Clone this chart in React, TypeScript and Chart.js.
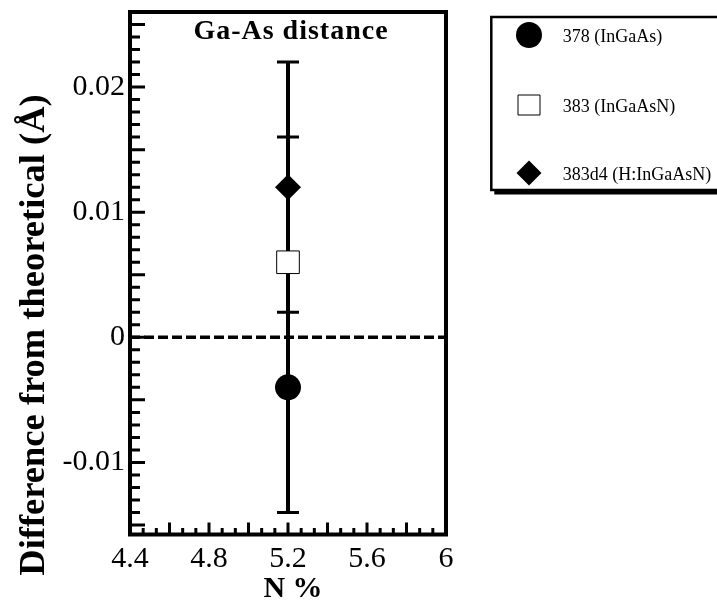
import React, { useEffect, useRef } from 'react';
import { Chart, registerables } from 'chart.js';

Chart.register(...registerables);

// ---- data ----
const seriesLabels = ['378 (InGaAs)', '383 (InGaAsN)', '383d4 (H:InGaAsN)'];
const nPercent = [5.2, 5.2, 5.2];
const difference = [-0.004, 0.006, 0.012];
const errors = [0.01, 0.01, 0.01];
const xTickLabels = [4.4, 4.8, 5.2, 5.6, 6];
const yTickLabels = [-0.01, 0, 0.01, 0.02];
const xRange = [4.4, 6];
const yRange = [-0.016, 0.026];
const zeroLine = [0, 0];

const chartTitle = 'Ga-As distance';
const xTitle = 'N %';
const yTitle = 'Difference from theoretical (Å)';

// ---- style ----
const FONT = '"Liberation Serif", "Times New Roman", Times, serif';
const pointStyles = ['circle', 'rect', 'rectRot'];
const pointRadii = [13, 16, 13];
const pointFills = ['#000', '#fff', '#000'];
const pointBorders = [0, 1, 0];

const W = 717;
const H = 601;
const PLOT_TOP = 12;
const PLOT_BOTTOM = 537.5;
const PLOT_LEFT = 130;
const PLOT_RIGHT = 446;

const noPadding = () => ({ left: 0, top: 0, right: 0, bottom: 0 });

const errorBarPlugin = {
  id: 'errorBars',
  beforeDatasetsDraw(chart: any) {
    const { ctx } = chart;
    const xs = chart.scales.x;
    const ys = chart.scales.y;
    chart.data.datasets.forEach((ds: any) => {
      if (!ds.errorBars) return;
      ds.data.forEach((p: any, j: number) => {
        const e = ds.errorBars[j];
        const px = xs.getPixelForValue(p.x);
        const top = ys.getPixelForValue(p.y + e);
        const bot = ys.getPixelForValue(p.y - e);
        ctx.save();
        ctx.strokeStyle = '#000';
        ctx.lineWidth = 4;
        ctx.beginPath();
        ctx.moveTo(px, top);
        ctx.lineTo(px, bot);
        ctx.stroke();
        ctx.lineWidth = 3;
        ctx.beginPath();
        ctx.moveTo(px - 11, top);
        ctx.lineTo(px + 11, top);
        ctx.moveTo(px - 11, bot);
        ctx.lineTo(px + 11, bot);
        ctx.stroke();
        ctx.restore();
      });
    });
  },
};

const framePlugin = {
  id: 'frame',
  afterDatasetsDraw(chart: any) {
    const { ctx, chartArea } = chart;
    const { left, right, top, bottom } = chartArea;
    const xs = chart.scales.x;
    const ys = chart.scales.y;
    const fb = bottom - 3;
    ctx.save();
    ctx.strokeStyle = '#000';
    ctx.lineWidth = 4;
    ctx.strokeRect(left, top, right - left, fb - top);
    ctx.lineWidth = 3;
    ctx.beginPath();
    for (let i = Math.round(yRange[0] * 1000) + 1; i < Math.round(yRange[1] * 1000); i++) {
      const py = ys.getPixelForValue(i / 1000);
      if (py >= fb - 2 || py <= top + 2) continue;
      const len = i % 5 === 0 ? 15 : 10;
      ctx.moveTo(left, py);
      ctx.lineTo(left + len, py);
    }
    const div = 24;
    for (let i = 1; i < div; i++) {
      const v = xRange[0] + (i * (xRange[1] - xRange[0])) / div;
      const px = xs.getPixelForValue(v);
      const len = i % 3 === 0 ? 12 : 6.5;
      ctx.moveTo(px, fb);
      ctx.lineTo(px, fb - len);
    }
    ctx.stroke();
    ctx.restore();
  },
};

const textPlugin = {
  id: 'texts',
  afterDraw(chart: any) {
    const { ctx, chartArea } = chart;
    ctx.save();
    ctx.fillStyle = '#000';
    ctx.font = `bold 28px ${FONT}`;
    ctx.textAlign = 'center';
    ctx.textBaseline = 'alphabetic';
    try { (ctx as any).letterSpacing = '1px'; } catch (e) {}
    ctx.fillText(chartTitle, (chartArea.left + chartArea.right) / 2 + 3, 38.5);
    try { (ctx as any).letterSpacing = '0px'; } catch (e) {}
    ctx.font = `bold 30px ${FONT}`;
    ctx.fillText(xTitle, 293, 597);
    ctx.save();
    ctx.translate(44, 335);
    ctx.rotate(-Math.PI / 2);
    ctx.font = `bold 36.5px ${FONT}`;
    ctx.fillText(yTitle, 0, 0);
    ctx.restore();
    ctx.restore();
  },
};

const legendPlugin = {
  id: 'boxLegend',
  afterDraw(chart: any) {
    const { ctx } = chart;
    const bx = 491.3, by = 17, bw = 240, bh = 173;
    ctx.save();
    ctx.fillStyle = '#fff';
    ctx.fillRect(bx, by, bw, bh);
    ctx.fillStyle = '#000';
    ctx.fillRect(bx + 3, by + bh, bw, 4.5);
    ctx.strokeStyle = '#000';
    ctx.lineWidth = 2.5;
    ctx.strokeRect(bx, by, bw, bh);
    const rows = [35, 105, 173];
    const mx = 529;
    chart.data.datasets.forEach((ds: any, i: number) => {
      if (!ds.inLegend) return;
      const cy = rows[i];
      ctx.fillStyle = ds.backgroundColor;
      ctx.strokeStyle = '#000';
      ctx.lineWidth = 1;
      ctx.beginPath();
      if (ds.pointStyle === 'circle') {
        ctx.arc(mx, cy, 13, 0, Math.PI * 2);
        ctx.fill();
      } else if (ds.pointStyle === 'rect') {
        ctx.rect(mx - 11, cy - 10, 22, 20);
        ctx.fill();
        ctx.stroke();
      } else {
        ctx.moveTo(mx, cy - 12.5);
        ctx.lineTo(mx + 12.5, cy);
        ctx.lineTo(mx, cy + 12.5);
        ctx.lineTo(mx - 12.5, cy);
        ctx.closePath();
        ctx.fill();
      }
      ctx.fillStyle = '#000';
      ctx.font = `18px ${FONT}`;
      ctx.textAlign = 'left';
      ctx.textBaseline = 'alphabetic';
      ctx.fillText(ds.label, 562.7, cy + 6.5);
    });
    ctx.restore();
  },
};

export default function App() {
  const ref = useRef<HTMLCanvasElement | null>(null);
  useEffect(() => {
    document.body.style.margin = '0';
    const canvas = ref.current;
    if (!canvas) return;
    const datasets: any[] = seriesLabels.map((label, i) => ({
      type: 'scatter',
      label,
      inLegend: true,
      data: [{ x: nPercent[i], y: difference[i] }],
      errorBars: [errors[i]],
      pointStyle: pointStyles[i],
      pointRadius: pointRadii[i],
      pointHoverRadius: pointRadii[i],
      backgroundColor: pointFills[i],
      borderColor: '#000',
      borderWidth: pointBorders[i],
    }));
    datasets.push({
      type: 'line',
      label: 'zero',
      data: xRange.map((x, i) => ({ x, y: zeroLine[i] })),
      borderColor: '#000',
      borderWidth: 3.5,
      borderDash: [10, 4],
      pointRadius: 0,
      fill: false,
      tension: 0,
      order: 10,
    });
    const chart = new Chart(canvas, {
      type: 'scatter',
      data: { datasets },
      options: {
        responsive: false,
        animation: false,
        devicePixelRatio: 1,
        layout: {
          autoPadding: false,
          padding: { left: 0, top: PLOT_TOP, right: W - PLOT_RIGHT, bottom: 0 },
        },
        plugins: {
          legend: { display: false },
          tooltip: { enabled: false },
          title: { display: false },
          subtitle: { display: false },
        },
        scales: {
          x: {
            type: 'linear',
            min: xRange[0],
            max: xRange[1],
            afterBuildTicks: (s: any) => {
              s.ticks = xTickLabels.map((v) => ({ value: v }));
            },
            afterFit: (s: any) => {
              s.height = H - PLOT_BOTTOM;
              s.paddingLeft = 0;
              s.paddingRight = 0;
              s.getPadding = noPadding;
            },
            grid: { display: false, drawTicks: false },
            border: { display: false },
            ticks: {
              font: { family: FONT, size: 30 },
              color: '#000',
              padding: 4,
              maxRotation: 0,
              autoSkip: false,
              callback: (v: any) => String(Number(Number(v).toFixed(2))),
            },
          },
          y: {
            type: 'linear',
            min: yRange[0],
            max: yRange[1],
            afterBuildTicks: (s: any) => {
              s.ticks = yTickLabels.map((v) => ({ value: v }));
            },
            afterFit: (s: any) => {
              s.width = PLOT_LEFT;
              s.paddingTop = 0;
              s.paddingBottom = 0;
              s.getPadding = noPadding;
            },
            grid: { display: false, drawTicks: false },
            border: { display: false },
            ticks: {
              font: { family: FONT, size: 30 },
              color: '#000',
              padding: 5,
              autoSkip: false,
              callback: (v: any) => String(Number(Number(v).toFixed(3))),
            },
          },
        },
      } as any,
      plugins: [errorBarPlugin, framePlugin, textPlugin, legendPlugin],
    });
    return () => chart.destroy();
  }, []);
  return (
    <canvas
      ref={ref}
      width={W}
      height={H}
      style={{ display: 'block', width: W, height: H }}
    />
  );
}
